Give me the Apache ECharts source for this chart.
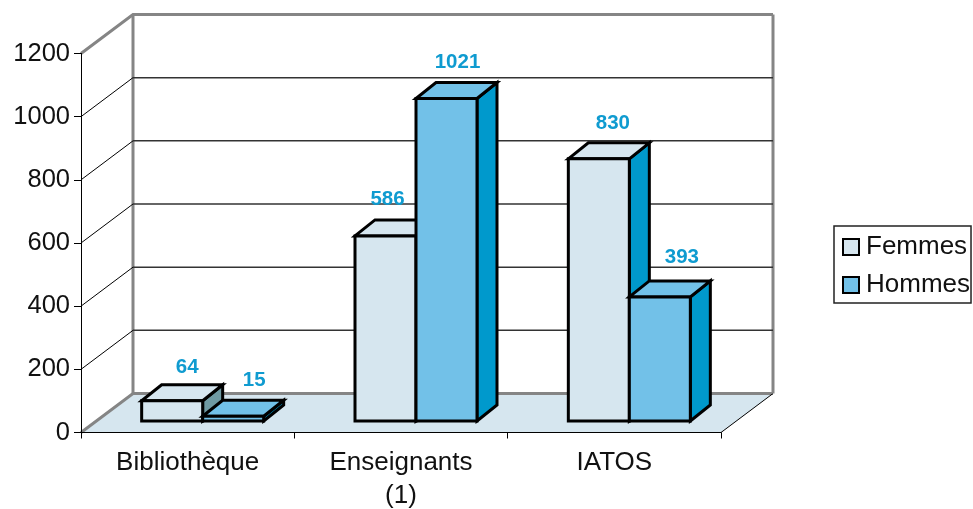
<!DOCTYPE html>
<html>
<head>
<meta charset="utf-8">
<style>
html, body { margin: 0; padding: 0; background: #fff; }
#main { width: 973px; height: 509px; }
</style>
<script src="https://cdn.jsdelivr.net/npm/echarts@6/dist/echarts.min.js"></script>
</head>
<body>
<div id="main"></div>
<script>
var categories = ['Bibliothèque', 'Enseignants\n(1)', 'IATOS'];
var femmes = [64, 586, 830];
var hommes = [15, 1021, 393];
var ticks = [0, 200, 400, 600, 800, 1000, 1200];

// 3d look
var wallDx = 52, wallDy = 39;
var barDx = 20, barDy = 16;
var barWidth = 61, barShift = 15, barLift = 11.5;
var femmesSide = ['#6f9aa3', '#0099cc', '#0099cc'];
// label nudges from the bar's front top centre
var femmesNudge = [[15, -33], [2, -37], [14, -36]];
var hommesNudge = [[21, -36], [11, -36], [22, -40]];

var chart = echarts.init(document.getElementById('main'));

function renderWall(params, api) {
	var v = api.value(0);
	var cs = params.coordSys;
	var y = api.coord([0, v])[1];
	var left = cs.x, right = cs.x + cs.width;
	var children = [];
	var gray = {stroke: '#858585', lineWidth: 3, fill: null};
	if (v === 0) {
		children.push({type: 'polygon', shape: {points: [[left, y], [left + wallDx, y - wallDy], [right + wallDx, y - wallDy], [right, y]]},
			style: {fill: '#d6e6ef'}});
		children.push({type: 'polyline', shape: {points: [[left, y], [left + wallDx, y - wallDy], [right + wallDx, y - wallDy]]}, style: gray});
		children.push({type: 'line', shape: {x1: right, y1: y, x2: right + wallDx, y2: y - wallDy}, style: {stroke: '#000', lineWidth: 1}});
		var topY = api.coord([0, ticks[ticks.length - 1]])[1];
		children.push({type: 'line', shape: {x1: left + wallDx, y1: y - wallDy, x2: left + wallDx, y2: topY - wallDy}, style: gray});
		children.push({type: 'line', shape: {x1: right + wallDx, y1: y - wallDy, x2: right + wallDx, y2: topY - wallDy}, style: gray});
	} else if (v === ticks[ticks.length - 1]) {
		children.push({type: 'polyline', shape: {points: [[left, y], [left + wallDx, y - wallDy], [right + wallDx, y - wallDy]]}, style: gray});
	} else {
		children.push({type: 'line', shape: {x1: left, y1: y, x2: left + wallDx, y2: y - wallDy}, style: {stroke: '#000', lineWidth: 1}});
		children.push({type: 'line', shape: {x1: left + wallDx, y1: y - wallDy, x2: right + wallDx, y2: y - wallDy}, style: {stroke: '#333', lineWidth: 1.5}});
	}
	return {type: 'group', children: children};
}

function barRenderer(front, sideColors, nudges, startAt) {
	return function(params, api) {
		var i = params.dataIndex;
		var base = api.coord([api.value(0), 0]);
		var top = api.coord([api.value(0), api.value(1)]);
		var x0 = base[0] + barShift + startAt;
		var x1 = x0 + barWidth;
		var y0 = base[1] - barLift;
		var y1 = top[1] - barLift;
		var edge = {stroke: '#000', lineWidth: 3, lineJoin: 'miter'};
		function face(points, fill) {
			return {type: 'polygon', shape: {points: points}, style: Object.assign({fill: fill}, edge)};
		}
		return {type: 'group', children: [
			face([[x1, y0], [x1 + barDx, y0 - barDy], [x1 + barDx, y1 - barDy], [x1, y1]], sideColors[i]),
			face([[x0, y1], [x0 + barDx, y1 - barDy], [x1 + barDx, y1 - barDy], [x1, y1]], front),
			face([[x0, y0], [x1, y0], [x1, y1], [x0, y1]], front),
			{type: 'text', style: {
				x: (x0 + x1) / 2 + nudges[i][0], y: y1 + nudges[i][1],
				text: String(api.value(1)), align: 'center', verticalAlign: 'middle',
				fill: '#0f9bd0', font: 'bold 20.5px "Liberation Sans"'
			}}
		]};
	};
}

function pairs(values) {
	return values.map(function(v, i) { return [i, v]; });
}

var option = {
	animation: false,
	textStyle: {fontFamily: 'Liberation Sans'},
	grid: {left: 81, right: 252, top: 53.5, height: 379, outerBoundsMode: 'none'},
	legend: {
		orient: 'vertical', left: 834, top: 226, padding: [8, 1, 5, 8],
		itemWidth: 16, itemHeight: 16, itemGap: 12,
		icon: 'rect',
		borderColor: '#222', borderWidth: 1.5,
		textStyle: {fontSize: 26, color: '#111', fontFamily: 'Liberation Sans', padding: [0, 0, 0, 2]},
		data: ['Femmes', 'Hommes']
	},
	xAxis: {
		type: 'category', data: categories, z: 3,
		axisLine: {lineStyle: {color: '#000', width: 1}},
		axisTick: {show: true, length: 6, lineStyle: {color: '#000'}},
		axisLabel: {fontSize: 26, color: '#111', margin: 14, lineHeight: 33}
	},
	yAxis: {
		type: 'value', min: 0, max: 1200, interval: 200, z: 3,
		axisLine: {show: true, lineStyle: {color: '#000', width: 1}},
		axisTick: {show: true, length: 7, lineStyle: {color: '#000'}},
		axisLabel: {fontSize: 25.5, color: '#111', margin: 11, formatter: function(v) { return String(v); }},
		splitLine: {show: false}
	},
	series: [
		{type: 'custom', name: 'walls', silent: true, z: 1, renderItem: renderWall,
			encode: {y: 0}, data: ticks.map(function(t) { return [t]; })},
		{type: 'custom', name: 'Femmes', z: 2, renderItem: barRenderer('#d6e6ef', femmesSide, femmesNudge, -barWidth),
			itemStyle: {color: '#d6e6ef', borderColor: '#000', borderWidth: 2.5},
			encode: {x: 0, y: 1}, data: pairs(femmes)},
		{type: 'custom', name: 'Hommes', z: 2, renderItem: barRenderer('#72c1e8', ['#0099cc', '#0099cc', '#0099cc'], hommesNudge, 0),
			itemStyle: {color: '#72c1e8', borderColor: '#000', borderWidth: 2.5},
			encode: {x: 0, y: 1}, data: pairs(hommes)}
	]
};
chart.setOption(option);
</script>
</body>
</html>
